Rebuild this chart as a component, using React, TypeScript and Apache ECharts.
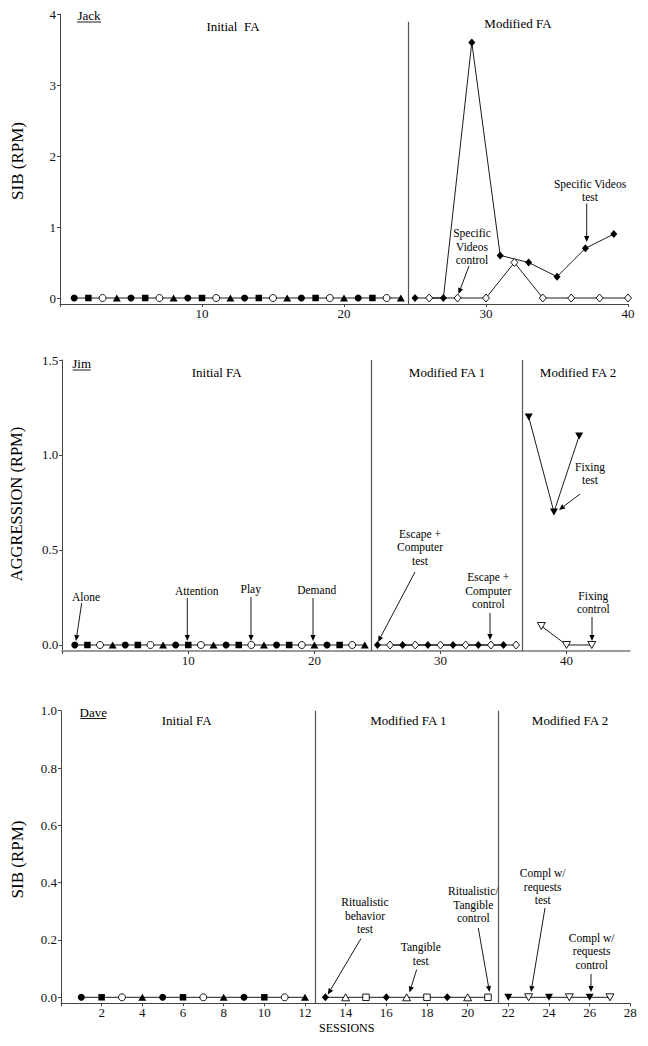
import React, { useEffect, useRef } from "react";
import * as echarts from "echarts";

// ---------- DATA ----------
// Jack
const jackAlone: [number, number][] = [[1, 0], [5, 0], [9, 0], [13, 0], [17, 0], [21, 0]];
const jackAttention: [number, number][] = [[2, 0], [6, 0], [10, 0], [14, 0], [18, 0], [22, 0]];
const jackPlay: [number, number][] = [[3, 0], [7, 0], [11, 0], [15, 0], [19, 0], [23, 0]];
const jackDemand: [number, number][] = [[4, 0], [8, 0], [12, 0], [16, 0], [20, 0], [24, 0]];
const jackVideosTest: [number, number][] = [[25, 0], [27, 0], [29, 3.6], [31, 0.6], [33, 0.5], [35, 0.3], [37, 0.7], [39, 0.9]];
const jackVideosControl: [number, number][] = [[26, 0], [28, 0], [30, 0], [32, 0.5], [34, 0], [36, 0], [38, 0], [40, 0]];
const jackPhaseLines = [24.5];
const jackXTicks = [0, 10, 20, 30, 40];
const jackYTicks = [0, 1, 2, 3, 4];

// Jim
const jimAlone: [number, number][] = [[1, 0], [5, 0], [9, 0], [13, 0], [17, 0], [21, 0]];
const jimAttention: [number, number][] = [[2, 0], [6, 0], [10, 0], [14, 0], [18, 0], [22, 0]];
const jimPlay: [number, number][] = [[3, 0], [7, 0], [11, 0], [15, 0], [19, 0], [23, 0]];
const jimDemand: [number, number][] = [[4, 0], [8, 0], [12, 0], [16, 0], [20, 0], [24, 0]];
const jimEscapeTest: [number, number][] = [[25, 0], [27, 0], [29, 0], [31, 0], [33, 0], [35, 0]];
const jimEscapeControl: [number, number][] = [[26, 0], [28, 0], [30, 0], [32, 0], [34, 0], [36, 0]];
const jimFixingTest: [number, number][] = [[37, 1.2], [39, 0.7], [41, 1.1]];
const jimFixingControl: [number, number][] = [[38, 0.1], [40, 0], [42, 0]];
const jimPhaseLines = [24.5, 36.5];
const jimXTicks = [0, 10, 20, 30, 40];
const jimYTicks = [0, 0.5, 1.0, 1.5];

// Dave
const daveAlone: [number, number][] = [[1, 0], [5, 0], [9, 0]];
const daveAttention: [number, number][] = [[2, 0], [6, 0], [10, 0]];
const davePlay: [number, number][] = [[3, 0], [7, 0], [11, 0]];
const daveDemand: [number, number][] = [[4, 0], [8, 0], [12, 0]];
const daveRitualTest: [number, number][] = [[13, 0], [16, 0], [19, 0]];
const daveTangibleTest: [number, number][] = [[14, 0], [17, 0], [20, 0]];
const daveRitualTangibleControl: [number, number][] = [[15, 0], [18, 0], [21, 0]];
const daveComplTest: [number, number][] = [[22, 0], [24, 0], [26, 0]];
const daveComplControl: [number, number][] = [[23, 0], [25, 0], [27, 0]];
const davePhaseLines = [12.5, 21.5];
const daveXTicks = [0, 2, 4, 6, 8, 10, 12, 14, 16, 18, 20, 22, 24, 26, 28];
const daveYTicks = [0, 0.2, 0.4, 0.6, 0.8, 1.0];

// ---------- STYLE HELPERS ----------
const SERIF = '"Liberation Serif", "Times New Roman", serif';

type MarkerKind =
  | "circleFilled"
  | "circleOpen"
  | "squareFilled"
  | "squareOpen"
  | "triUpFilled"
  | "triUpOpen"
  | "triDownFilled"
  | "triDownOpen"
  | "diamondFilled"
  | "diamondOpen";

function markerStyle(kind: MarkerKind) {
  const open = kind.endsWith("Open");
  let symbol = "circle";
  let rotate = 0;
  let size: number | number[] = 7;
  if (kind.startsWith("square")) {
    symbol = "rect";
    size = 6.5;
  } else if (kind.startsWith("triUp")) {
    symbol = "triangle";
    size = [8, 7];
  } else if (kind.startsWith("triDown")) {
    symbol = "triangle";
    rotate = 180;
    size = [8, 7];
  } else if (kind.startsWith("diamond")) {
    symbol = "diamond";
    size = [7, 8];
  }
  return {
    symbol,
    symbolRotate: rotate,
    symbolSize: size,
    itemStyle: {
      color: open ? "#fff" : "#000",
      borderColor: "#000",
      borderWidth: open ? 0.9 : 0,
      opacity: 1,
    },
  };
}

function sortPts(...arrs: [number, number][][]) {
  return ([] as [number, number][]).concat(...arrs).sort((a, b) => a[0] - b[0]);
}

function lineSeries(idx: number, data: [number, number][]) {
  return {
    type: "line",
    xAxisIndex: idx,
    yAxisIndex: idx,
    data,
    symbol: "none",
    showSymbol: false,
    lineStyle: { color: "#000", width: 0.9 },
    z: 2,
    silent: true,
  };
}

function scatterSeries(idx: number, data: [number, number][], kind: MarkerKind) {
  return {
    type: "scatter",
    xAxisIndex: idx,
    yAxisIndex: idx,
    data,
    ...markerStyle(kind),
    z: 4,
    silent: true,
  };
}

function phaseSeries(idx: number, xs: number[], yBottom: number, yTop: number) {
  return {
    type: "line",
    xAxisIndex: idx,
    yAxisIndex: idx,
    data: [],
    silent: true,
    markLine: {
      silent: true,
      symbol: ["none", "none"],
      label: { show: false },
      lineStyle: { color: "#555", width: 1.2, type: "solid" },
      data: xs.map((x) => [
        { coord: [x, yBottom] },
        { coord: [x, yTop] },
      ]),
    },
  };
}

function xAxis(idx: number, max: number, ticks: number[], lineColor: string, lineWidth: number) {
  return {
    type: "value",
    gridIndex: idx,
    min: 0,
    max,
    position: "bottom",
    axisLine: { show: true, onZero: false, lineStyle: { color: lineColor, width: lineWidth } },
    axisTick: { show: true, length: 3, inside: false, customValues: ticks, lineStyle: { color: "#444", width: 1 } },
    axisLabel: {
      customValues: ticks,
      margin: 3,
      color: "#111",
      fontFamily: SERIF,
      fontSize: 13,
      formatter: (v: number) => (v === 0 ? "" : String(v)),
    },
    splitLine: { show: false },
  };
}

function yAxis(idx: number, min: number, max: number, ticks: number[], decimals: number) {
  return {
    type: "value",
    gridIndex: idx,
    min,
    max,
    axisLine: { show: true, onZero: false, lineStyle: { color: "#444", width: 1 } },
    axisTick: { show: true, length: 3, customValues: ticks, lineStyle: { color: "#444", width: 1 } },
    axisLabel: {
      customValues: ticks,
      margin: 4,
      color: "#111",
      fontFamily: SERIF,
      fontSize: 13,
      formatter: (v: number) => v.toFixed(decimals),
    },
    splitLine: { show: false },
  };
}

function txt(x: number, y: number, text: string, size = 11.5) {
  return {
    type: "text",
    x,
    y,
    silent: true,
    style: {
      text,
      fill: "#000",
      font: `${size}px ${SERIF}`,
      fontFamily: SERIF,
      fontSize: size,
      textAlign: "center",
      textVerticalAlign: "middle",
      align: "center",
      verticalAlign: "middle",
      lineHeight: 13.5,
    },
  };
}

function rotTxt(x: number, y: number, text: string, size: number) {
  return {
    type: "text",
    x,
    y,
    rotation: Math.PI / 2,
    silent: true,
    style: {
      text,
      fill: "#000",
      font: `${size}px ${SERIF}`,
      fontFamily: SERIF,
      fontSize: size,
      textAlign: "center",
      textVerticalAlign: "middle",
      align: "center",
      verticalAlign: "middle",
    },
  };
}

function arrow(x1: number, y1: number, x2: number, y2: number) {
  const dx = x2 - x1;
  const dy = y2 - y1;
  const len = Math.hypot(dx, dy);
  const ux = dx / len;
  const uy = dy / len;
  const head = 6;
  const half = 2.6;
  const bx = x2 - ux * head;
  const by = y2 - uy * head;
  return [
    {
      type: "line",
      silent: true,
      shape: { x1, y1, x2: bx, y2: by },
      style: { stroke: "#000", lineWidth: 0.9 },
    },
    {
      type: "polygon",
      silent: true,
      shape: {
        points: [
          [x2, y2],
          [bx - uy * half, by + ux * half],
          [bx + uy * half, by - ux * half],
        ],
      },
      style: { fill: "#000" },
    },
  ];
}

function underlined(x: number, y: number, text: string, w: number) {
  return [
    txt(x, y, text, 13),
    {
      type: "line",
      silent: true,
      shape: { x1: x - w / 2, y1: y + 6.5, x2: x + w / 2, y2: y + 6.5 },
      style: { stroke: "#000", lineWidth: 0.9 },
    },
  ];
}

// ---------- COMPONENT ----------
export default function App() {
  const ref = useRef<HTMLDivElement>(null);

  useEffect(() => {
    if (!ref.current) return;
    const chart = echarts.init(ref.current, undefined, { renderer: "svg" });

    const jackYMin = -0.0845;
    const jimYMin = -0.0316;
    const daveYMin = -0.0209;

    const series: any[] = [
      // Jack
      phaseSeries(0, jackPhaseLines, jackYMin, 3.89),
      lineSeries(0, sortPts(jackAlone, jackAttention, jackPlay, jackDemand)),
      lineSeries(0, jackVideosTest),
      lineSeries(0, jackVideosControl),
      scatterSeries(0, jackAlone, "circleFilled"),
      scatterSeries(0, jackAttention, "squareFilled"),
      scatterSeries(0, jackPlay, "circleOpen"),
      scatterSeries(0, jackDemand, "triUpFilled"),
      scatterSeries(0, jackVideosTest, "diamondFilled"),
      scatterSeries(0, jackVideosControl, "diamondOpen"),
      // Jim
      phaseSeries(1, jimPhaseLines, jimYMin, 1.5),
      lineSeries(1, sortPts(jimAlone, jimAttention, jimPlay, jimDemand)),
      lineSeries(1, jimEscapeTest),
      lineSeries(1, jimEscapeControl),
      lineSeries(1, jimFixingTest),
      lineSeries(1, jimFixingControl),
      scatterSeries(1, jimAlone, "circleFilled"),
      scatterSeries(1, jimAttention, "squareFilled"),
      scatterSeries(1, jimPlay, "circleOpen"),
      scatterSeries(1, jimDemand, "triUpFilled"),
      scatterSeries(1, jimEscapeTest, "diamondFilled"),
      scatterSeries(1, jimEscapeControl, "diamondOpen"),
      scatterSeries(1, jimFixingTest, "triDownFilled"),
      scatterSeries(1, jimFixingControl, "triDownOpen"),
      // Dave
      phaseSeries(2, davePhaseLines, daveYMin, 1.0),
      lineSeries(2, sortPts(daveAlone, daveAttention, davePlay, daveDemand)),
      lineSeries(2, sortPts(daveRitualTest, daveTangibleTest, daveRitualTangibleControl)),
      lineSeries(2, sortPts(daveComplTest, daveComplControl)),
      scatterSeries(2, daveAlone, "circleFilled"),
      scatterSeries(2, daveAttention, "squareFilled"),
      scatterSeries(2, davePlay, "circleOpen"),
      scatterSeries(2, daveDemand, "triUpFilled"),
      scatterSeries(2, daveRitualTest, "diamondFilled"),
      scatterSeries(2, daveTangibleTest, "triUpOpen"),
      scatterSeries(2, daveRitualTangibleControl, "squareOpen"),
      scatterSeries(2, daveComplTest, "triDownFilled"),
      scatterSeries(2, daveComplControl, "triDownOpen"),
    ];

    const graphics: any[] = [
      // Jack
      rotTxt(17, 161, "SIB (RPM)", 17),
      ...underlined(89, 15.5, "Jack", 24),
      txt(233, 26, "Initial  FA", 13),
      txt(518, 23, "Modified FA", 13),
      txt(472, 246.7, "Specific\nVideos\ncontrol"),
      ...arrow(469, 266, 458.5, 294),
      txt(590, 190.5, "Specific Videos\ntest"),
      ...arrow(586.7, 203.5, 586.7, 242),
      // Jim
      rotTxt(16.7, 504, "AGGRESSION (RPM)", 16.5),
      ...underlined(81.7, 363.5, "Jim", 18),
      txt(216.7, 372, "Initial FA", 13),
      txt(447, 372, "Modified FA 1", 13),
      txt(578, 372, "Modified FA 2", 13),
      txt(86, 597, "Alone"),
      ...arrow(81.7, 603, 76, 641),
      txt(196.7, 591, "Attention"),
      ...arrow(187.3, 598, 187.3, 641),
      txt(250.7, 589, "Play"),
      ...arrow(251, 597, 251, 641),
      txt(316.7, 590, "Demand"),
      ...arrow(313, 598, 313, 641),
      txt(420, 547.3, "Escape +\nComputer\ntest"),
      ...arrow(415, 572, 378, 642),
      txt(488.3, 590.5, "Escape +\nComputer\ncontrol"),
      ...arrow(490, 613, 490, 640),
      txt(590, 473.3, "Fixing\ntest"),
      ...arrow(580, 494, 559, 510),
      txt(593.3, 602.3, "Fixing\ncontrol"),
      ...arrow(592, 617, 592, 641),
      // Dave
      rotTxt(17, 859.5, "SIB (RPM)", 17),
      ...underlined(93.3, 712, "Dave", 26),
      txt(186.7, 720, "Initial FA", 13),
      txt(408.3, 720, "Modified FA 1", 13),
      txt(570, 720, "Modified FA 2", 13),
      txt(365, 915.7, "Ritualistic\nbehavior\ntest"),
      ...arrow(361, 938.5, 327.8, 994.5),
      txt(420.7, 954.2, "Tangible\ntest"),
      ...arrow(416.7, 969.5, 409.5, 992.5),
      txt(473.3, 904.5, "Ritualistic/\nTangible\ncontrol"),
      ...arrow(478.3, 928, 489.5, 992),
      txt(542.7, 886.5, "Compl w/\nrequests\ntest"),
      ...arrow(545, 908, 531, 992),
      txt(591.7, 951.3, "Compl w/\nrequests\ncontrol"),
      ...arrow(591, 974, 591, 992),
      txt(346.7, 1028, "SESSIONS", 12),
    ];

    chart.setOption({
      animation: false,
      backgroundColor: "#fff",
      grid: [
        { left: 60, top: 14, width: 568, height: 290, containLabel: false, outerBoundsMode: "none" },
        { left: 62.2, top: 360, width: 567.4, height: 291, containLabel: false, outerBoundsMode: "none" },
        { left: 61, top: 710.7, width: 569.3, height: 292.6, containLabel: false, outerBoundsMode: "none" },
      ],
      xAxis: [
        xAxis(0, 40, jackXTicks, "#444", 1),
        xAxis(1, 45, jimXTicks, "#999", 2.2),
        xAxis(2, 28, daveXTicks, "#444", 1),
      ],
      yAxis: [
        yAxis(0, jackYMin, 4, jackYTicks, 0),
        yAxis(1, jimYMin, 1.5, jimYTicks, 1),
        yAxis(2, daveYMin, 1.0, daveYTicks, 1),
      ],
      series,
      graphic: { elements: graphics },
    });

    return () => chart.dispose();
  }, []);

  return (
    <div
      ref={ref}
      style={{
        position: "fixed",
        left: 0,
        top: 0,
        width: 648,
        height: 1046,
        background: "#fff",
      }}
    />
  );
}
